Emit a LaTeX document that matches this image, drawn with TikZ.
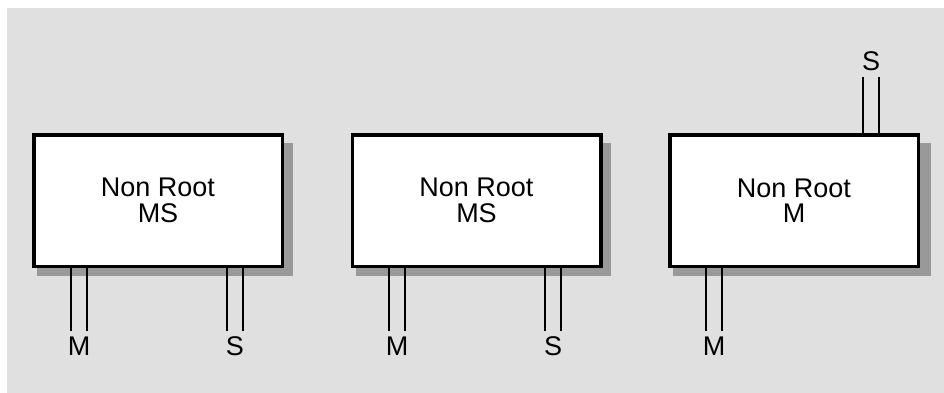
\documentclass[tikz,border=0pt]{standalone}
\usepackage{fontspec}
\setmainfont{Liberation Sans}
\definecolor{bggray}{HTML}{E0E0E0}
\definecolor{shadowgray}{HTML}{999999}
\begin{document}
\begin{tikzpicture}[x=1pt,y=-1pt,
  box/.style={draw=black,line width=3.5pt,fill=white,minimum width=248.5pt,minimum height=131.5pt,inner sep=0pt,align=center,font=\fontsize{27}{25.5}\selectfont},
  port/.style={draw=black,line width=2.5pt},
  lab/.style={inner sep=0pt,font=\fontsize{27}{27}\selectfont,anchor=base}]
\useasboundingbox (0,0) rectangle (944,393);
\fill[bggray] (7,8) rectangle (944,393);
% shadows
\fill[shadowgray] (37,143) rectangle (293,276);
\fill[shadowgray] (356,143) rectangle (611,276);
\fill[shadowgray] (673,143) rectangle (931,276);
% boxes
\node[box] (b1) at (158,200.5) {Non Root\\MS};
\node[box] (b2) at (476.5,200.5) {Non Root\\MS};
\node[box] (b3) at (794,200.5) {Non Root\\M};
% port end coordinates
\coordinate (m1a) at (71,331); \coordinate (m1b) at (87,331);
\coordinate (s1a) at (227,331); \coordinate (s1b) at (243,331);
\coordinate (m2a) at (389,331); \coordinate (m2b) at (405,331);
\coordinate (s2a) at (545,331); \coordinate (s2b) at (561,331);
\coordinate (m3a) at (706,331); \coordinate (m3b) at (722,331);
\coordinate (s3a) at (863,77); \coordinate (s3b) at (879,77);
% ports
\foreach \c/\b in {m1a/b1,m1b/b1,s1a/b1,s1b/b1,m2a/b2,m2b/b2,s2a/b2,s2b/b2,m3a/b3,m3b/b3}
  \draw[port] (\c) -- (\c |- \b.south);
\foreach \c in {s3a,s3b}
  \draw[port] (\c) -- (\c |- b3.north);
% labels
\node[lab] (lm1) at (79,355) {M};
\node[lab] (ls1) at (235,355) {S};
\node[lab] (lm2) at (397,355) {M};
\node[lab] (ls2) at (553,355) {S};
\node[lab] (lm3) at (714,355) {M};
\node[lab] (ls3) at (871,71) {S};
\end{tikzpicture}
\end{document}
